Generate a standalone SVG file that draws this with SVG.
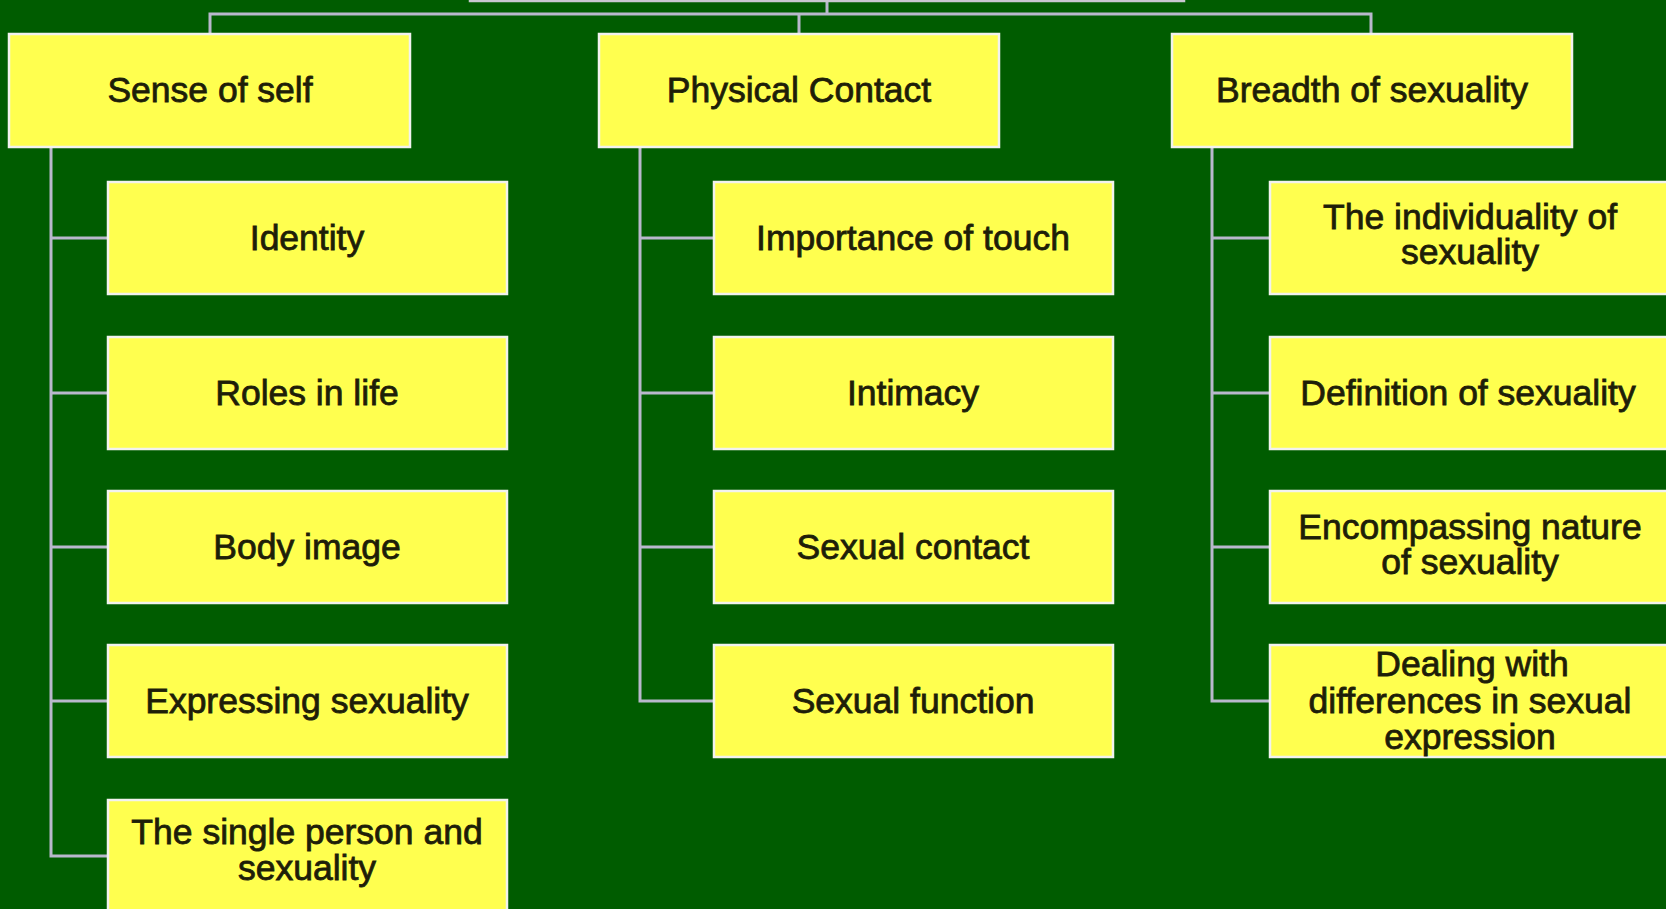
<svg xmlns="http://www.w3.org/2000/svg" width="1666" height="909" viewBox="0 0 1666 909">
<style>
.bg{fill:#005c00}
.box{fill:#ffff4f;stroke:#f2f2ee;stroke-width:2.5}
.t{font-family:"Liberation Sans",Arial,sans-serif;font-size:35.5px;fill:#1e1e08;stroke:#1e1e08;stroke-width:0.8;text-anchor:middle}
.c{fill:none;stroke:#b8b8cc;stroke-width:3}
</style>
<rect class="bg" x="0" y="0" width="1666" height="909"/>
<g id="connectors">
<path class="c" d="M827 1V14M210 34V14H1371V34M799 14V34"/>
<path class="c" d="M51 147V856H108M51 238H108M51 393H108M51 547H108M51 701H108"/>
<path class="c" d="M640 147V701H714M640 238H714M640 393H714M640 547H714"/>
<path class="c" d="M1212 147V701H1270M1212 238H1270M1212 393H1270M1212 547H1270"/>
</g>
<g id="root"><rect class="box" x="470" y="-110" width="714" height="111" style="stroke:#c8c8d0"/></g>
<g id="sense"><rect class="box" x="9" y="34" width="401" height="113"/><text class="t" x="210" y="102">Sense of self</text></g>
<g id="physical"><rect class="box" x="599" y="34" width="400" height="113"/><text class="t" x="799" y="102">Physical Contact</text></g>
<g id="breadth"><rect class="box" x="1172" y="34" width="400" height="113"/><text class="t" x="1372" y="102">Breadth of sexuality</text></g>
<g id="identity"><rect class="box" x="108" y="182" width="399" height="112"/><text class="t" x="307" y="250">Identity</text></g>
<g id="roles"><rect class="box" x="108" y="337" width="399" height="112"/><text class="t" x="307" y="405">Roles in life</text></g>
<g id="body"><rect class="box" x="108" y="491" width="399" height="112"/><text class="t" x="307" y="559">Body image</text></g>
<g id="expressing"><rect class="box" x="108" y="645" width="399" height="112"/><text class="t" x="307" y="713">Expressing sexuality</text></g>
<g id="single"><rect class="box" x="108" y="800" width="399" height="112"/><text class="t" x="307" y="844">The single person and</text><text class="t" x="307" y="880">sexuality</text></g>
<g id="touch"><rect class="box" x="714" y="182" width="399" height="112"/><text class="t" x="913" y="250">Importance of touch</text></g>
<g id="intimacy"><rect class="box" x="714" y="337" width="399" height="112"/><text class="t" x="913" y="405">Intimacy</text></g>
<g id="contact"><rect class="box" x="714" y="491" width="399" height="112"/><text class="t" x="913" y="559">Sexual contact</text></g>
<g id="function"><rect class="box" x="714" y="645" width="399" height="112"/><text class="t" x="913" y="713">Sexual function</text></g>
<g id="individuality"><rect class="box" x="1270" y="182" width="400" height="112"/><text class="t" x="1470" y="229">The individuality  of</text><text class="t" x="1470" y="264">sexuality</text></g>
<g id="definition"><rect class="box" x="1270" y="337" width="400" height="112"/><text class="t" x="1468" y="405">Definition of sexuality</text></g>
<g id="encompassing"><rect class="box" x="1270" y="491" width="400" height="112"/><text class="t" x="1470" y="539">Encompassing nature</text><text class="t" x="1470" y="574">of sexuality</text></g>
<g id="dealing"><rect class="box" x="1270" y="645" width="400" height="112"/><text class="t" x="1472" y="676">Dealing with</text><text class="t" x="1470" y="713">differences in sexual</text><text class="t" x="1470" y="749">expression</text></g>
</svg>
